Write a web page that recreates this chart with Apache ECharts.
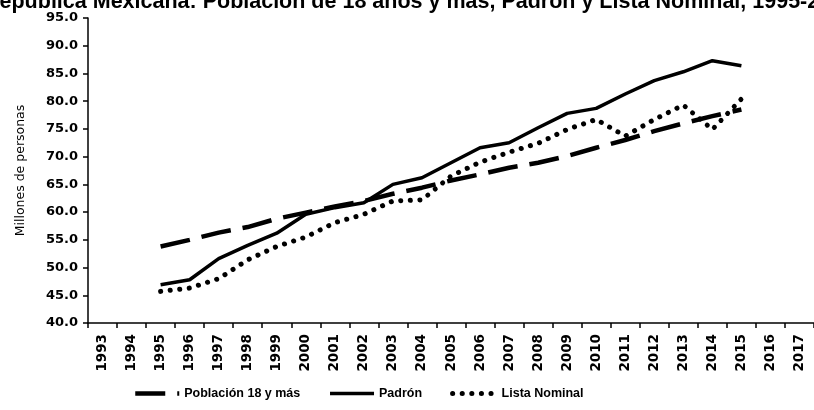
<!DOCTYPE html>
<html>
<head>
<meta charset="utf-8">
<script src="https://cdn.jsdelivr.net/npm/echarts@6/dist/echarts.min.js"></script>
<style>
  html, body { margin: 0; padding: 0; background: #fff; }
  #chart { width: 814px; height: 410px; }
</style>
</head>
<body>
<div id="chart"></div>
<script>
// years shown on the axis (data only 1995-2015)
var years = ['1993','1994','1995','1996','1997','1998','1999','2000','2001','2002','2003','2004','2005',
             '2006','2007','2008','2009','2010','2011','2012','2013','2014','2015','2016','2017'];

// millions of people
var poblacion18 = [null, null, 53.8, 55.0, 56.3, 57.3, 58.8, 59.9, 61.0, 62.0, 63.3, 64.4, 65.7,
                   66.8, 68.0, 68.9, 70.1, 71.6, 73.0, 74.6, 76.0, 77.3, 78.5, null, null];
var padron = [null, null, 46.9, 47.8, 51.6, 54.0, 56.2, 59.6, 60.8, 61.7, 65.0, 66.2, 68.9,
              71.6, 72.5, 75.2, 77.8, 78.7, 81.3, 83.7, 85.3, 87.3, 86.4, null, null];
var listaNominal = [null, null, 45.7, 46.3, 48.0, 51.4, 53.8, 55.5, 58.1, 59.6, 62.0, 62.2, 66.5,
                    69.0, 70.8, 72.4, 74.9, 76.7, 73.7, 76.7, 79.3, 74.9, 80.4, null, null];

var yTicks = { min: 40, max: 95, step: 5 };

var dashStyle = { color: '#000', width: 4.5, type: [30, 12] };
var solidStyle = { color: '#000', width: 3.5, type: 'solid' };
var dotStyle = { color: '#000', width: 5, type: [0.1, 9.5], cap: 'round' };

var chart = echarts.init(document.getElementById('chart'));

var option = {
  animation: false,
  backgroundColor: '#fff',
  title: {
    text: 'República Mexicana: Población de 18 años y más, Padrón y Lista Nominal, 1995-2015',
    left: -21,
    top: -14,
    textStyle: { fontFamily: 'Liberation Sans', fontWeight: 'bold', fontSize: 21.5, color: '#000' }
  },
  grid: { left: 88, right: -9, top: 18, bottom: 87 },
  legend: {
    bottom: 5,
    left: 128,
    itemWidth: 44,
    itemHeight: 12,
    itemGap: 28,
    itemStyle: { opacity: 0 },
    textStyle: { fontFamily: 'Liberation Sans', fontWeight: 'bold', fontSize: 12.5, color: '#000' },
    data: [
      { name: 'Población 18 y más', lineStyle: dashStyle },
      { name: 'Padrón', lineStyle: solidStyle },
      { name: 'Lista Nominal', lineStyle: dotStyle }
    ]
  },
  xAxis: {
    type: 'category',
    data: years,
    boundaryGap: true,
    axisLine: { lineStyle: { color: '#000', width: 1.5 } },
    axisTick: { show: true, length: 5, inside: false, lineStyle: { color: '#000', width: 1.5 } },
    axisLabel: {
      rotate: 90, interval: 0, margin: 11,
      fontFamily: 'DejaVu Sans', fontWeight: 'bold', fontSize: 13.5, color: '#000'
    },
    splitLine: { show: false }
  },
  yAxis: {
    type: 'value',
    min: yTicks.min,
    max: yTicks.max,
    interval: yTicks.step,
    name: 'Millones de personas',
    nameLocation: 'middle',
    nameGap: 61,
    nameTextStyle: { fontFamily: 'DejaVu Sans', fontSize: 12.5, color: '#000' },
    axisLine: { show: true, lineStyle: { color: '#000', width: 1.5 } },
    axisTick: { show: true, length: 5, lineStyle: { color: '#000', width: 1.5 } },
    axisLabel: {
      margin: 10,
      formatter: function (v) { return v.toFixed(1); },
      fontFamily: 'DejaVu Sans', fontWeight: 'bold', fontSize: 13, color: '#000'
    },
    splitLine: { show: false }
  },
  series: [
    {
      name: 'Población 18 y más',
      type: 'line',
      data: poblacion18,
      symbol: 'none',
      itemStyle: { color: '#000' },
      lineStyle: dashStyle
    },
    {
      name: 'Padrón',
      type: 'line',
      data: padron,
      symbol: 'none',
      itemStyle: { color: '#000' },
      lineStyle: solidStyle
    },
    {
      name: 'Lista Nominal',
      type: 'line',
      data: listaNominal,
      symbol: 'none',
      itemStyle: { color: '#000' },
      lineStyle: dotStyle
    }
  ]
};

chart.setOption(option);
</script>
</body>
</html>
